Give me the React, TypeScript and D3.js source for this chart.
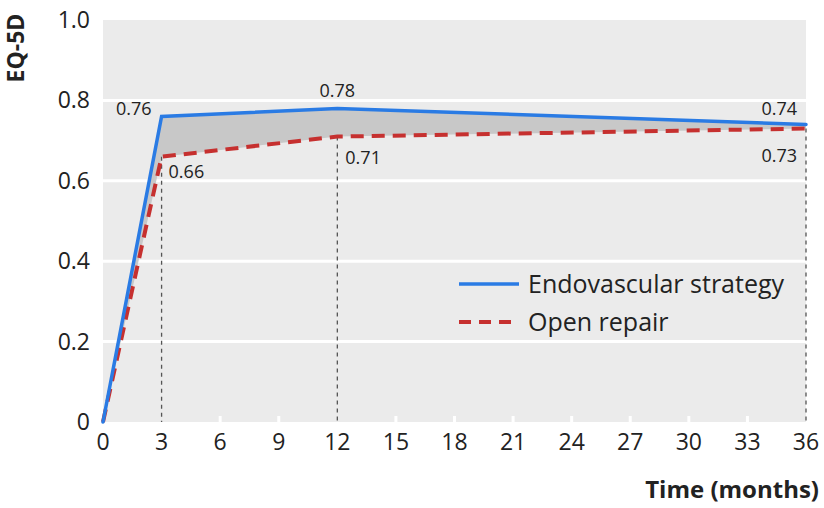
import React, { useEffect, useRef } from "react";
import * as d3 from "d3";

const months = [0, 3, 12, 36];
const endovascular = [0, 0.76, 0.78, 0.74];
const openRepair = [0, 0.66, 0.71, 0.73];
const xTicks = [0, 3, 6, 9, 12, 15, 18, 21, 24, 27, 30, 33, 36];
const yTicks = [0, 0.2, 0.4, 0.6, 0.8, 1.0];
const seriesNames = ["Endovascular strategy", "Open repair"];

export default function App() {
  const ref = useRef<SVGSVGElement>(null);

  useEffect(() => {
    const width = 824;
    const height = 508;
    const margin = { top: 20, right: 18, bottom: 86, left: 103 };
    const innerWidth = width - margin.left - margin.right;
    const innerHeight = height - margin.top - margin.bottom;
    const font = "'Open Sans', sans-serif";

    const svg = d3.select(ref.current).attr("width", width).attr("height", height);
    svg.selectAll("*").remove();
    const g = svg.append("g").attr("transform", `translate(${margin.left},${margin.top})`);

    const x = d3.scaleLinear().domain([0, 36]).range([0, innerWidth]);
    const y = d3.scaleLinear().domain([0, 1]).range([innerHeight, 0]);

    // background
    g.append("rect").attr("width", innerWidth).attr("height", innerHeight).attr("fill", "#ebebeb");

    // gridlines
    g.selectAll(".grid")
      .data(yTicks.filter(d => d > 0 && d < 1))
      .join("line")
      .attr("x1", 0).attr("x2", innerWidth)
      .attr("y1", d => y(d)).attr("y2", d => y(d))
      .attr("stroke", "#fff").attr("stroke-width", 3);

    // small white ticks at bottom
    g.selectAll(".xt")
      .data(xTicks.filter(d => d > 0 && d < 36 && d !== 3 && d !== 12))
      .join("line")
      .attr("x1", d => x(d)).attr("x2", d => x(d))
      .attr("y1", innerHeight).attr("y2", innerHeight - 6)
      .attr("stroke", "#fff").attr("stroke-width", 3);

    const rows = months.map((m, i) => ({ m, a: endovascular[i], b: openRepair[i] }));

    // shaded area between
    const area = d3.area<any>().x(d => x(d.m)).y0(d => y(d.b)).y1(d => y(d.a));
    g.append("path").datum(rows).attr("d", area).attr("fill", "#c8c8c8");

    // vertical dashed guides
    g.selectAll(".guide")
      .data(rows.filter(d => d.m > 0))
      .join("line")
      .attr("x1", d => x(d.m)).attr("x2", d => x(d.m))
      .attr("y1", d => y(d.b)).attr("y2", innerHeight)
      .attr("stroke", "#555").attr("stroke-width", 1.3)
      .attr("stroke-dasharray", "4,4");

    const line = (key: "a" | "b") => d3.line<any>().x(d => x(d.m)).y(d => y(d[key]));

    g.append("path").datum(rows).attr("d", line("b"))
      .attr("fill", "none").attr("stroke", "#c6302f").attr("stroke-width", 4)
      .attr("stroke-dasharray", "13,8");
    g.append("path").datum(rows).attr("d", line("a"))
      .attr("fill", "none").attr("stroke", "#2a7be4").attr("stroke-width", 3.5)
      .attr("stroke-linecap", "round").attr("stroke-linejoin", "miter");

    // value labels
    const lab = (t: string, px: number, py: number, anchor: string) =>
      g.append("text").attr("x", px).attr("y", py).attr("text-anchor", anchor)
        .attr("font-family", font).attr("font-size", 18).attr("fill", "#222").text(t);
    lab(endovascular[1].toFixed(2), x(3) - 10, y(endovascular[1]) - 1, "end");
    lab(endovascular[2].toFixed(2), x(12), y(endovascular[2]) - 11, "middle");
    lab(endovascular[3].toFixed(2), x(36) - 9, y(endovascular[3]) - 10, "end");
    lab(openRepair[1].toFixed(2), x(3) + 7, y(openRepair[1]) + 21, "start");
    lab(openRepair[2].toFixed(2), x(12) + 8, y(openRepair[2]) + 27, "start");
    lab(openRepair[3].toFixed(2), x(36) - 9, y(openRepair[3]) + 33, "end");

    // y axis labels
    svg.append("g").selectAll("text")
      .data(yTicks)
      .join("text")
      .attr("x", margin.left - 13)
      .attr("y", d => margin.top + y(d))
      .attr("dy", "0.35em")
      .attr("text-anchor", "end")
      .attr("font-family", font).attr("font-size", 23).attr("fill", "#222")
      .text(d => (d === 0 ? "0" : d.toFixed(1)));

    // x axis labels
    svg.append("g").selectAll("text")
      .data(xTicks)
      .join("text")
      .attr("x", d => margin.left + x(d))
      .attr("y", margin.top + innerHeight + 28)
      .attr("text-anchor", "middle")
      .attr("font-family", font).attr("font-size", 23).attr("fill", "#222")
      .text(d => d);

    // axis titles
    svg.append("text")
      .attr("x", 819).attr("y", 498)
      .attr("text-anchor", "end")
      .attr("font-family", font).attr("font-weight", "bold").attr("font-size", 24).attr("fill", "#222")
      .text("Time (months)");
    svg.append("text")
      .attr("transform", "translate(24,48) rotate(-90)")
      .attr("text-anchor", "middle")
      .attr("font-family", font).attr("font-weight", "bold").attr("font-size", 23).attr("fill", "#222")
      .text("EQ-5D");

    // legend
    const legend = svg.append("g").attr("transform", "translate(459,284)");
    legend.append("line").attr("x1", 0).attr("x2", 60).attr("y1", 0).attr("y2", 0)
      .attr("stroke", "#2a7be4").attr("stroke-width", 3.5);
    legend.append("line").attr("x1", 0).attr("x2", 60).attr("y1", 38).attr("y2", 38)
      .attr("stroke", "#c6302f").attr("stroke-width", 4).attr("stroke-dasharray", "12,8");
    legend.selectAll("text")
      .data(seriesNames)
      .join("text")
      .attr("x", 69)
      .attr("y", (d, i) => i * 38)
      .attr("dy", "0.35em")
      .attr("font-family", font).attr("font-size", 25).attr("fill", "#222")
      .text(d => d);
  }, []);

  return <svg ref={ref} style={{ display: "block", position: "absolute", left: 0, top: 0 }} />;
}
